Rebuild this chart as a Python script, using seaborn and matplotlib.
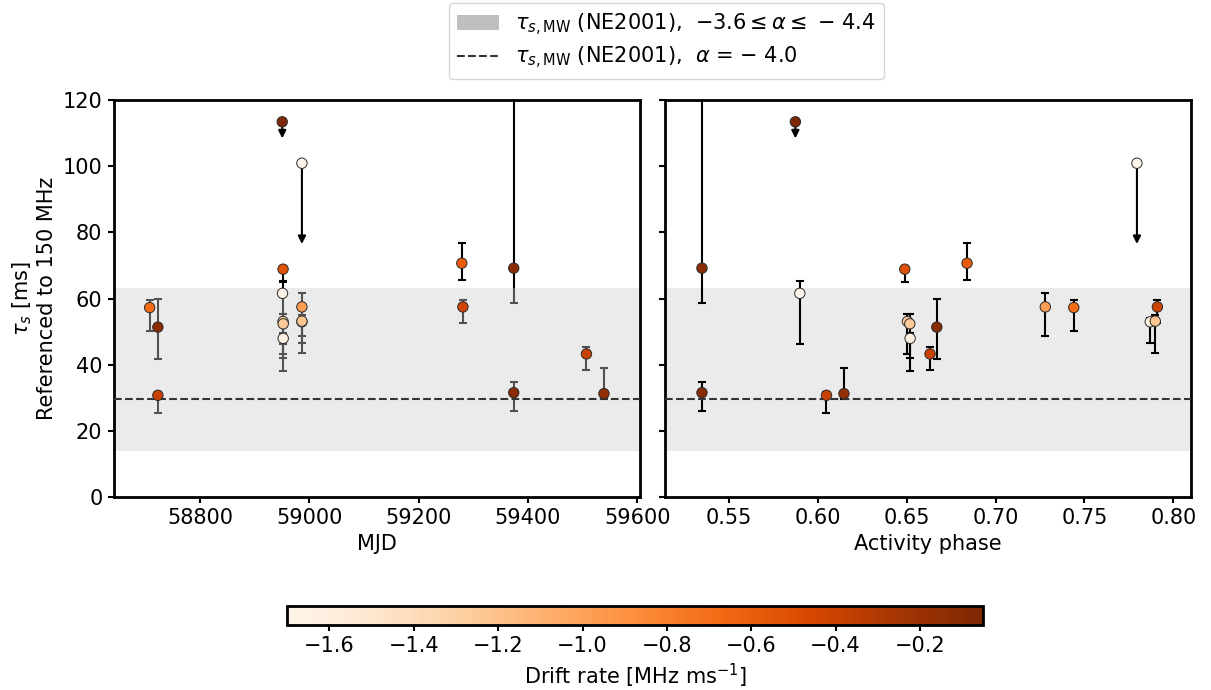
import numpy as np
import pandas as pd
import matplotlib
matplotlib.use("Agg")
import matplotlib.pyplot as plt
from matplotlib.patches import Patch
from matplotlib.lines import Line2D
from matplotlib.colors import Normalize
from matplotlib.cm import ScalarMappable
import seaborn as sns

# Scattering timescales of individual bursts, referenced to 150 MHz
mjd = [58708, 58723, 58723, 58950.5, 58952, 58951, 58952, 58952.3, 58952.3,
       58986.5, 58986.5, 58986.5, 58986.5, 59279, 59281, 59374, 59374, 59507, 59539]
phase = [0.744, 0.667, 0.605, 0.5875, 0.649, 0.590, 0.6505, 0.6518, 0.652,
         0.7795, 0.728, 0.787, 0.7898, 0.684, 0.791, 0.535, 0.535, 0.6632, 0.6148]
tau = [57.3, 51.4, 30.8, 113.4, 68.9, 61.6, 53.1, 52.4, 48.0,
       100.9, 57.5, 53.0, 53.2, 70.7, 57.5, 69.2, 31.6, 43.3, 31.3]
tau_err_lo = [7.0, 9.6, 5.3, 0.0, 3.8, 15.3, 9.9, 10.3, 9.8,
              0.0, 8.8, 6.3, 9.6, 5.1, 4.8, 10.4, 5.5, 4.9, 1.5]
tau_err_hi = [2.2, 8.6, 1.0, 0.0, 1.1, 3.7, 2.2, 3.1, 1.5,
              0.0, 4.3, 1.1, 1.8, 6.2, 2.0, 100.0, 3.2, 2.1, 7.6]
is_upper_limit = [False, False, False, True, False, False, False, False, False,
                  True, False, False, False, False, False, False, False, False, False]
limit_arrow = [0, 0, 0, 5.0, 0, 0, 0, 0, 0, 24.4, 0, 0, 0, 0, 0, 0, 0, 0, 0]
drift = [-0.68, -0.10, -0.40, -0.05, -0.52, -1.66, -1.28, -1.25, -1.62,
         -1.70, -0.98, -1.64, -1.22, -0.58, -0.42, -0.12, -0.10, -0.40, -0.15]

# Milky Way contribution (NE2001)
mw_tau = 29.6
mw_tau_lo, mw_tau_hi = 13.9, 63.2

cbar_ticks = [-1.6, -1.4, -1.2, -1.0, -0.8, -0.6, -0.4, -0.2]

df = pd.DataFrame(dict(mjd=mjd, phase=phase, tau=tau, lo=tau_err_lo, hi=tau_err_hi,
                       ul=is_upper_limit, arrow=limit_arrow, drift=drift))

sns.set_style("ticks")
plt.rcParams.update({
    "font.family": ["DejaVu Sans"],
    "font.size": 15,
    "axes.labelsize": 15,
    "xtick.labelsize": 15,
    "ytick.labelsize": 15,
    "legend.fontsize": 15,
    "text.color": "black",
    "axes.labelcolor": "black",
    "axes.linewidth": 2.0,
    "axes.edgecolor": "black",
    "xtick.major.width": 1.5,
    "ytick.major.width": 1.5,
    "xtick.major.size": 4.5,
    "ytick.major.size": 4.5,
    "xtick.color": "black",
    "ytick.color": "black",
})

norm = Normalize(vmin=min(drift), vmax=max(drift))
cmap = "Oranges"

fig = plt.figure(figsize=(12.11, 6.9), dpi=100)
ax1 = fig.add_axes([0.0938, 0.2793, 0.4347, 0.5758])
ax2 = fig.add_axes([0.5491, 0.2793, 0.4344, 0.5758], sharey=ax1)

meas = df[~df.ul]
lims = df[df.ul]

for ax, xcol, band_z, err_z in [(ax1, "mjd", 2.5, 2), (ax2, "phase", 0.5, 2)]:
    ax.axhspan(mw_tau_lo, mw_tau_hi, color="#cfcfcf", alpha=0.4, lw=0, zorder=band_z)
    ax.axhline(mw_tau, color="#333333", ls="--", lw=1.5, zorder=3)
    ax.errorbar(meas[xcol], meas["tau"], yerr=[meas["lo"], meas["hi"]], fmt="none",
                ecolor="black", elinewidth=1.5, capsize=3, capthick=1.5, zorder=err_z)
    for _, r in lims.iterrows():
        ax.annotate("", xy=(r[xcol], r["tau"] - r["arrow"]), xytext=(r[xcol], r["tau"]),
                    arrowprops=dict(arrowstyle="-|>,head_length=0.3,head_width=0.15",
                                    mutation_scale=15, color="black", lw=1.5,
                                    shrinkA=0, shrinkB=0),
                    zorder=2)
    sns.scatterplot(data=df, x=xcol, y="tau", hue="drift", palette=cmap, hue_norm=norm,
                    s=56, edgecolor="#2b2b2b", linewidth=0.7, legend=False, ax=ax, zorder=4)

ax1.set_xlim(58642, 59605)
ax2.set_xlim(0.5142, 0.8099)
ax1.set_ylim(0, 120)
ax1.set_xticks([58800, 59000, 59200, 59400, 59600])
ax2.set_xticks([0.55, 0.60, 0.65, 0.70, 0.75, 0.80])
ax1.set_yticks([0, 20, 40, 60, 80, 100, 120])
ax2.tick_params(labelleft=False)
ax1.set_xlabel("MJD")
ax2.set_xlabel("Activity phase")
ax1.set_ylabel("$\\tau_s$ [ms]\nReferenced to 150 MHz")
ax2.set_ylabel("")
for ax in (ax1, ax2):
    for sp in ax.spines.values():
        sp.set_visible(True)
        sp.set_linewidth(2.0)

cax = fig.add_axes([0.2372, 0.0942, 0.5747, 0.0275])
sm = ScalarMappable(norm=norm, cmap=cmap)
cbar = fig.colorbar(sm, cax=cax, orientation="horizontal")
cbar.set_ticks(cbar_ticks)
cbar.set_ticklabels([f"\u2212{abs(t):.1f}" for t in cbar_ticks])
cbar.outline.set_linewidth(2.0)
cbar.set_label("Drift rate [MHz ms$^{-1}$]")

handles = [
    Patch(facecolor="#bfbfbf", edgecolor="none",
          label="$\\tau_{s,\\mathrm{MW}}$ (NE2001),  $-3.6 \\leq \\alpha \\leq$ \u2212 4.4"),
    Line2D([], [], color="#333333", ls="--", lw=1.5,
           label="$\\tau_{s,\\mathrm{MW}}$ (NE2001),  $\\alpha$ = \u2212 4.0"),
]
fig.legend(handles=handles, loc="upper center", bbox_to_anchor=(0.5504, 1.0),
           borderaxespad=0.15, labelspacing=0.35, frameon=True,
           edgecolor="#cccccc", fancybox=True)

fig.savefig("out.png", dpi=100)
